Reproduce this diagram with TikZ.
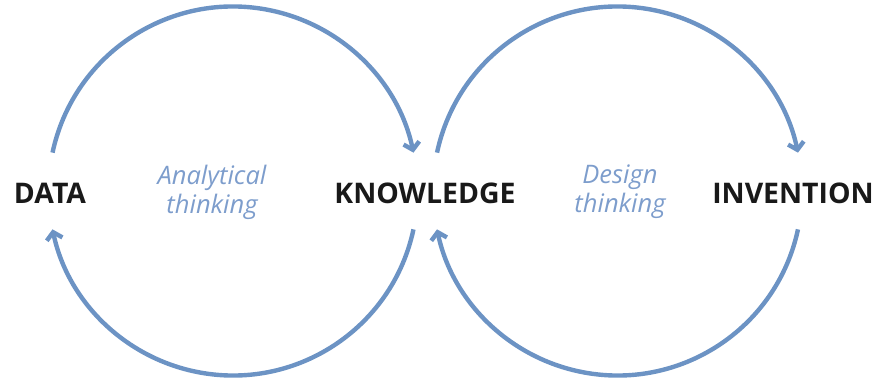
\documentclass[tikz,border=0pt]{standalone}
\usepackage{fontspec}
\setmainfont{Open Sans}
\usetikzlibrary{calc,arrows.meta}
\definecolor{loopblue}{RGB}{108,147,196}
\definecolor{textblue}{RGB}{125,157,204}
\tikzset{>={Straight Barb[length=7pt,width=16pt]}}
\tikzset{
  stage/.style={font=\bfseries\fontsize{28.4}{30}\selectfont, text=black!90},
  mode/.style={font=\itshape\fontsize{25.5}{29}\selectfont, text=textblue, align=center},
  loop/.style={->, line width=4.4pt, color=loopblue}
}
\begin{document}
\begin{tikzpicture}[x=1pt,y=1pt]
			\useasboundingbox (0, 0) rectangle (889, 381);
			\coordinate (lc) at (233, 190);
			\coordinate (rc) at (617.5, 190);
			\node [stage] (data) at (50, 188) {DATA};
			\node [stage] (know) at (425, 188) {KNOWLEDGE};
			\node [stage] (inv) at (793, 188) {INVENTION};
			\node [mode] (ana) at (212, 189) {Analytical\\thinking};
			\node [mode] (des) at (620, 189) {Design\\thinking};
			\coordinate (data-up) at ($(lc)+(168:184.5)$);
			\coordinate (know-lo) at ($(lc)+(-12:184.5)$);
			\coordinate (know-up) at ($(rc)+(168:184.5)$);
			\coordinate (inv-lo) at ($(rc)+(-12:184.5)$);
			\draw [loop] (data-up) arc [start angle=168, end angle=12, radius=184.5];
			\draw [loop] (know-lo) arc [start angle=-12, end angle=-168, radius=184.5];
			\draw [loop] (know-up) arc [start angle=168, end angle=12, radius=184.5];
			\draw [loop] (inv-lo) arc [start angle=-12, end angle=-168, radius=184.5];
		\end{tikzpicture}
\end{document}
